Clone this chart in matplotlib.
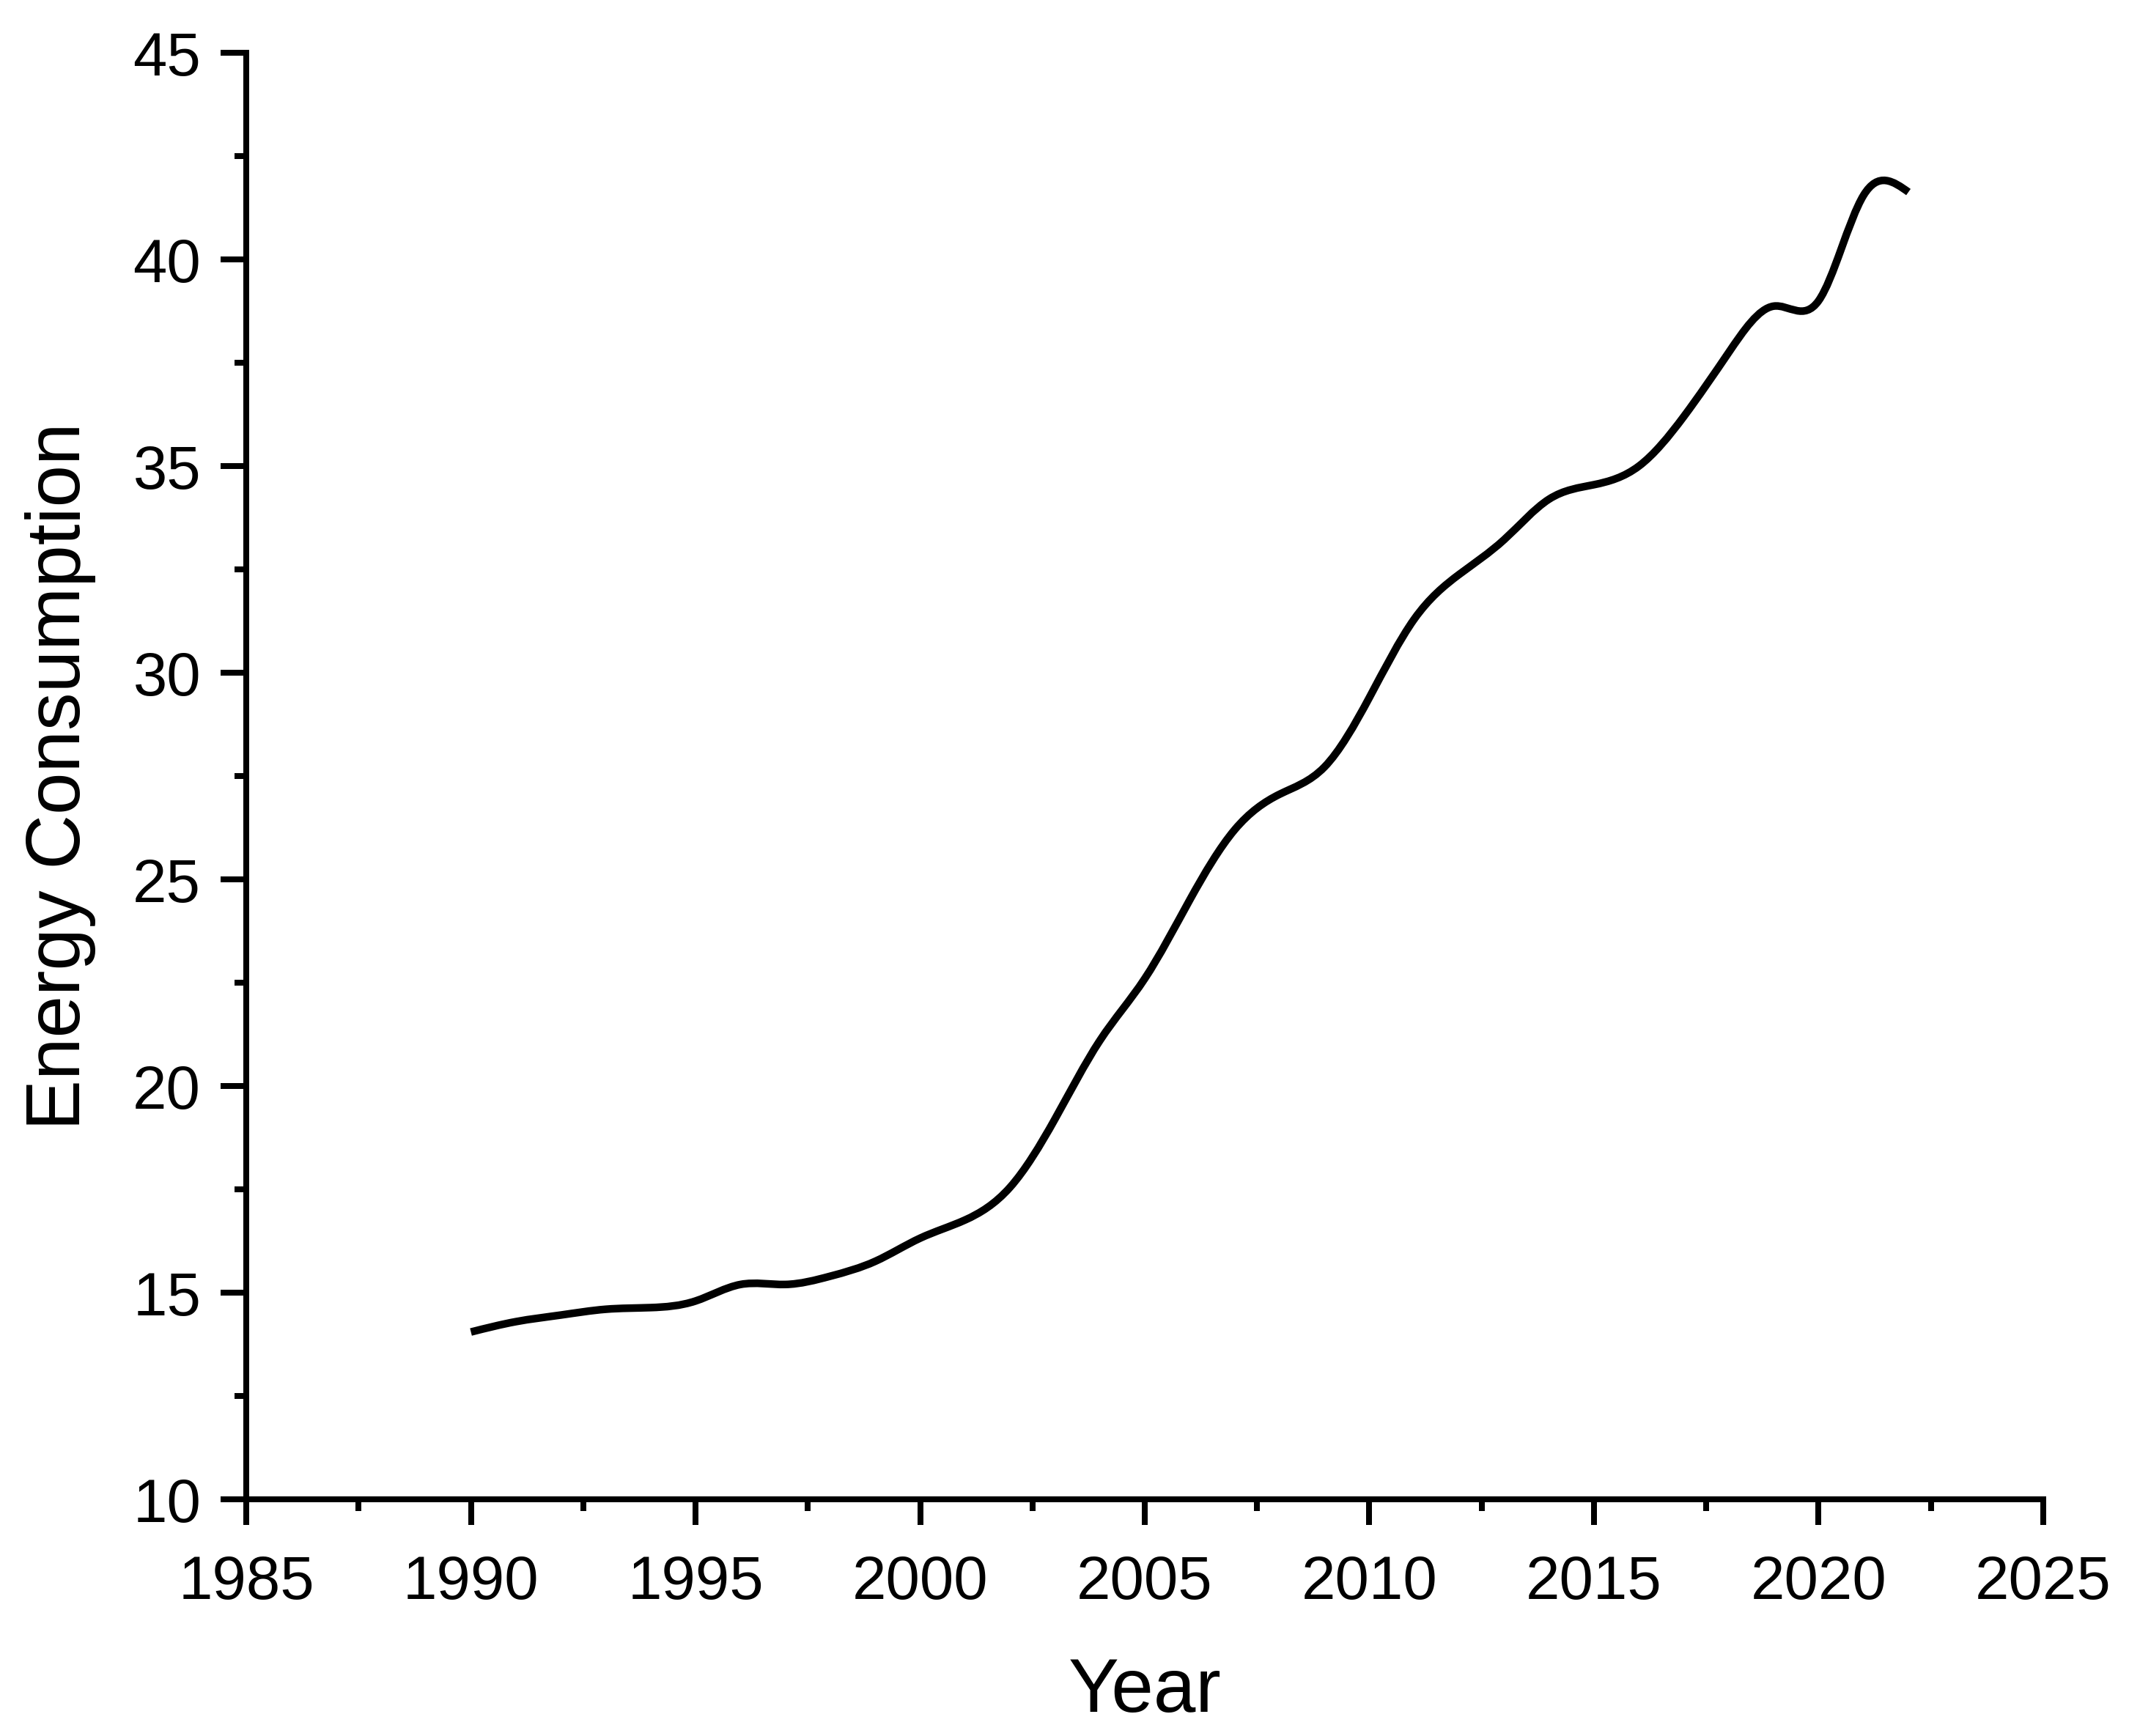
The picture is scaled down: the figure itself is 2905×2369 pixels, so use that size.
"""
Energy consumption by year, redrawn in an Origin-like style.
"""

import numpy as np
import matplotlib.pyplot as plt
from matplotlib.path import Path
from matplotlib.patches import PathPatch
from matplotlib.ticker import MultipleLocator

# ###########################################################
# Data
# ###########################################################

years = [1990, 1991, 1992, 1993, 1994, 1995, 1996, 1997, 1998, 1999,
         2000, 2001, 2002, 2003, 2004, 2005, 2006, 2007, 2008, 2009,
         2010, 2011, 2012, 2013, 2014, 2015, 2016, 2017, 2018, 2019,
         2020, 2021, 2022]
energy = [14.05, 14.30, 14.46, 14.60, 14.64, 14.80, 15.20, 15.20, 15.40, 15.76,
          16.32, 16.76, 17.55, 19.20, 21.10, 22.60, 24.50, 26.20, 27.06, 27.72,
          29.40, 31.30, 32.38, 33.22, 34.20, 34.55, 35.00, 36.20, 37.75, 38.87,
          39.00, 41.55, 41.63]

xticks = np.arange(1985, 2026, 5)
yticks = np.arange(10, 46, 5)

# ###########################################################
# Helper: spline connection (natural cubic, as Bezier path)
# ###########################################################


def spline_path(x, y):
    x = np.asarray(x, float)
    y = np.asarray(y, float)
    n = len(x)
    h = np.diff(x)
    # solve for first derivatives of the natural cubic spline
    A = np.zeros((n, n))
    b = np.zeros(n)
    A[0, 0], A[0, 1] = 2 / h[0], 1 / h[0]
    b[0] = 3 * (y[1] - y[0]) / h[0] ** 2
    for i in range(1, n - 1):
        A[i, i - 1] = 1 / h[i - 1]
        A[i, i] = 2 / h[i - 1] + 2 / h[i]
        A[i, i + 1] = 1 / h[i]
        b[i] = 3 * ((y[i] - y[i - 1]) / h[i - 1] ** 2 + (y[i + 1] - y[i]) / h[i] ** 2)
    A[-1, -2], A[-1, -1] = 1 / h[-1], 2 / h[-1]
    b[-1] = 3 * (y[-1] - y[-2]) / h[-1] ** 2
    m = np.linalg.solve(A, b)
    verts = [(x[0], y[0])]
    codes = [Path.MOVETO]
    for i in range(n - 1):
        d = h[i] / 3
        verts += [(x[i] + d, y[i] + m[i] * d),
                  (x[i + 1] - d, y[i + 1] - m[i + 1] * d),
                  (x[i + 1], y[i + 1])]
        codes += [Path.CURVE4] * 3
    return Path(verts, codes)


# ###########################################################
# Plot
# ###########################################################

plt.rcParams["font.family"] = ["Liberation Sans", "DejaVu Sans"]

fig = plt.figure(figsize=(2905 / 300, 2369 / 300), dpi=300)
ax = fig.add_axes([0.1157, 0.1363, 0.9597 - 0.1157, 0.9696 - 0.1363])

patch = PathPatch(spline_path(years, energy), facecolor="none",
                  edgecolor="black", lw=2.5, capstyle="butt", joinstyle="round",
                  transform=ax.transData)
ax.add_patch(patch)

ax.set_xlim(1985, 2025)
ax.set_ylim(10, 45)
ax.set_xticks(xticks)
ax.set_yticks(yticks)
ax.xaxis.set_minor_locator(MultipleLocator(2.5))
ax.yaxis.set_minor_locator(MultipleLocator(2.5))

for side in ["top", "right"]:
    ax.spines[side].set_visible(False)
for side in ["left", "bottom"]:
    ax.spines[side].set_linewidth(1.92)

ax.tick_params(which="major", direction="out", length=8.4, width=1.92,
               labelsize=20, colors="black")
ax.tick_params(which="minor", direction="out", length=3.8, width=1.92)
ax.tick_params(axis="x", which="major", pad=9.5)
ax.tick_params(axis="y", which="major", pad=6.5)

ax.set_xlabel("Year", fontsize=24.8, labelpad=15)
ax.set_ylabel("Energy Consumption", fontsize=24.8, labelpad=12)

fig.savefig("out.png", dpi=300, facecolor="white")
